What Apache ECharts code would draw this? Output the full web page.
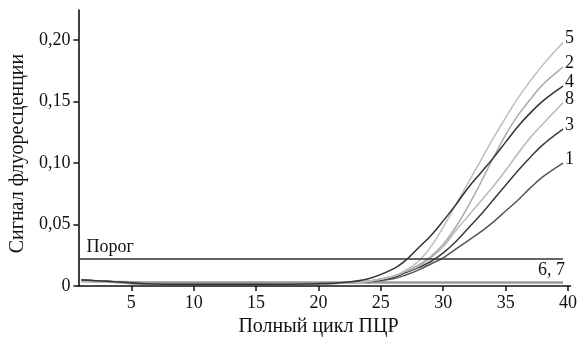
<!DOCTYPE html>
<html>
<head>
<meta charset="utf-8">
<script src="https://cdn.jsdelivr.net/npm/echarts@6/dist/echarts.min.js"></script>
<style>
  html, body { margin: 0; padding: 0; background: #fff; }
  #chart { width: 580px; height: 342px; }
</style>
</head>
<body>
<div id="chart"></div>
<script>
// циклы ПЦР и значения сигнала для каждой кривой
const cycles = [1, 3, 6, 10, 15, 20, 22, 24, 26, 27, 28, 29, 30, 31, 32, 33, 34, 35, 36, 37, 38, 39.6];

const curve5 = [0.004, 0.0035, 0.0015, 0.0015, 0.0015, 0.002, 0.0025, 0.004, 0.008, 0.013, 0.020, 0.032, 0.048, 0.066, 0.084, 0.102, 0.120, 0.137, 0.153, 0.167, 0.180, 0.198];
const curve2 = [0.0045, 0.004, 0.002, 0.0015, 0.0015, 0.002, 0.0025, 0.004, 0.008, 0.012, 0.017, 0.024, 0.034, 0.048, 0.065, 0.084, 0.104, 0.123, 0.139, 0.152, 0.164, 0.178];
const curve4 = [0.005, 0.004, 0.002, 0.0015, 0.0015, 0.002, 0.003, 0.006, 0.014, 0.021, 0.031, 0.041, 0.053, 0.066, 0.080, 0.092, 0.104, 0.117, 0.130, 0.141, 0.1506, 0.1625];
const curve8 = [0.004, 0.0035, 0.0015, 0.0015, 0.0015, 0.002, 0.0025, 0.004, 0.008, 0.012, 0.016, 0.023, 0.032, 0.045, 0.057, 0.069, 0.081, 0.094, 0.108, 0.121, 0.132, 0.149];
const curve3 = [0.005, 0.004, 0.002, 0.0015, 0.0015, 0.002, 0.0025, 0.004, 0.007, 0.011, 0.015, 0.020, 0.027, 0.036, 0.047, 0.058, 0.070, 0.082, 0.094, 0.105, 0.115, 0.1275];
const curve1 = [0.0045, 0.004, 0.002, 0.0015, 0.0015, 0.002, 0.0025, 0.0035, 0.006, 0.009, 0.013, 0.018, 0.023, 0.030, 0.037, 0.044, 0.052, 0.061, 0.070, 0.080, 0.089, 0.100];
const curve67 = [0.004, 0.0035, 0.003, 0.003, 0.003, 0.003, 0.003, 0.003, 0.003, 0.003, 0.003, 0.003, 0.003, 0.003, 0.003, 0.003, 0.003, 0.003, 0.003, 0.003, 0.003, 0.003];

const threshold = 0.022;
const xTicks = [5, 10, 15, 20, 25, 30, 35, 40];
const yTicks = [0, 0.05, 0.10, 0.15, 0.20];

const serif = 'Liberation Serif';

function pairs(values) {
  return cycles.map((c, i) => [c, values[i]]);
}

// кривая с подписью номера на конце
function curve(name, values, color, width) {
  return {
    name: name,
    type: 'line',
    smooth: 0.4,
    showSymbol: false,
    silent: true,
    lineStyle: { color: color, width: width },
    endLabel: {
      show: true,
      formatter: name,
      distance: 2,
      offset: [0, -4],
      fontFamily: serif,
      fontSize: 18,
      color: '#111'
    },
    data: pairs(values)
  };
}

const chart = echarts.init(document.getElementById('chart'));

chart.setOption({
  animation: false,
  backgroundColor: '#fff',
  grid: { left: 73, right: 5, top: 10, bottom: 49 },
  xAxis: {
    type: 'value',
    min: 0.76,
    max: 40.2,
    name: 'Полный цикл ПЦР',
    nameLocation: 'middle',
    nameGap: 24,
    nameTextStyle: { fontFamily: serif, fontSize: 20, color: '#111', padding: [0, 12, 0, 0] },
    axisLine: { lineStyle: { color: '#111', width: 1.6 } },
    axisTick: { length: 5, lineStyle: { color: '#111', width: 1.5 }, customValues: xTicks },
    axisLabel: { fontFamily: serif, fontSize: 18, color: '#111', margin: 8, customValues: xTicks },
    splitLine: { show: false }
  },
  yAxis: {
    type: 'value',
    min: 0,
    max: 0.2244,
    name: 'Сигнал флуоресценции',
    nameLocation: 'middle',
    nameGap: 42,
    nameTextStyle: { fontFamily: serif, fontSize: 20, color: '#111', padding: [0, 11, 0, 0] },
    axisLine: { show: true, lineStyle: { color: '#111', width: 1.6 } },
    axisTick: { show: true, length: 5, lineStyle: { color: '#111', width: 1.5 }, customValues: yTicks },
    axisLabel: {
      fontFamily: serif,
      fontSize: 18,
      color: '#111',
      margin: 8,
      customValues: yTicks,
      formatter: v => v === 0 ? '0' : v.toFixed(2).replace('.', ',')
    },
    splitLine: { show: false }
  },
  series: [
    {
      name: '6, 7',
      type: 'line',
      showSymbol: false,
      silent: true,
      lineStyle: { color: '#9a9a9a', width: 2.5 },
      endLabel: {
        show: true,
        formatter: '6, 7',
        offset: [-33, -12],
        fontFamily: serif,
        fontSize: 18,
        color: '#111'
      },
      markLine: {
        silent: true,
        symbol: 'none',
        lineStyle: { color: '#333', width: 1.5, type: 'solid' },
        label: {
          position: 'insideStartTop',
          formatter: 'Порог',
          fontFamily: serif,
          fontSize: 18,
          color: '#111',
          distance: [8, 3]
        },
        data: [[{ coord: [0.76, threshold] }, { coord: [39.6, threshold] }]]
      },
      data: pairs(curve67)
    },
    curve('1', curve1, '#555555', 1.5),
    curve('3', curve3, '#3a3a3a', 1.5),
    curve('8', curve8, '#b8b8b8', 1.5),
    curve('2', curve2, '#aaaaaa', 1.5),
    curve('5', curve5, '#bdbdbd', 1.5),
    curve('4', curve4, '#333333', 1.5)
  ]
});
</script>
</body>
</html>
